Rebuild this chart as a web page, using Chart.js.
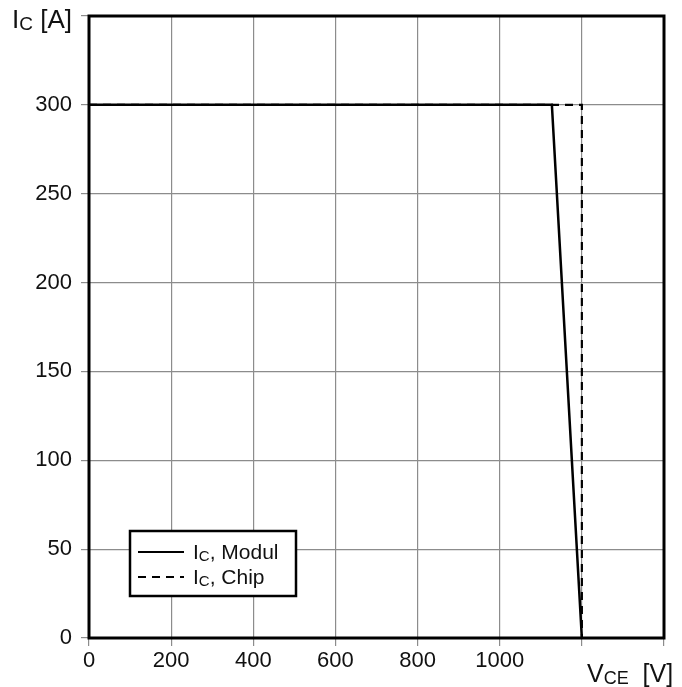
<!DOCTYPE html>
<html>
<head>
<meta charset="utf-8">
<script src="https://cdn.jsdelivr.net/npm/chart.js@4.4.1/dist/chart.umd.min.js"></script>
<style>
  html, body { margin: 0; padding: 0; background: #fff; }
  #wrap { width: 682px; height: 687px; position: relative; }
</style>
</head>
<body>
<div id="wrap"><canvas id="c" width="682" height="687"></canvas></div>
<script>
// Data
const xTicks = [0, 200, 400, 600, 800, 1000, 1200, 1400];
const yTicks = [0, 50, 100, 150, 200, 250, 300, 350];
const vceModul = [0, 1127, 1200];
const icModul = [300, 300, 0];
const vceChip = [0, 1200, 1200];
const icChip = [300, 300, 0];
const seriesLabels = ['Modul', 'Chip'];

const FONT = '"Liberation Sans", Arial, sans-serif';

function toPts(xs, ys) { return xs.map((x, i) => ({ x: x, y: ys[i] })); }

function drawSubText(ctx, x, y, parts, size) {
  let cx = x;
  parts.forEach(p => {
    const s = p.sub ? Math.round(size * 0.72) : size;
    ctx.font = s + 'px ' + FONT;
    ctx.fillText(p.t, cx, y + (p.sub ? size * 0.08 : 0));
    cx += ctx.measureText(p.t).width;
  });
}

const framePlugin = {
  id: 'frame',
  afterDatasetsDraw(chart) {
    const { ctx, chartArea: a } = chart;
    ctx.save();
    ctx.strokeStyle = '#000';
    ctx.lineWidth = 3;
    ctx.strokeRect(a.left, a.top, a.right - a.left, a.bottom - a.top);

    // axis titles
    ctx.fillStyle = '#111';
    ctx.textBaseline = 'alphabetic';
    ctx.textAlign = 'left';
    drawSubText(ctx, 12, 28, [{ t: 'I' }, { t: 'C', sub: true }, { t: ' [A]' }], 26);
    drawSubText(ctx, 587, 682, [{ t: 'V' }, { t: 'CE', sub: true }, { t: '  [V]' }], 25);

    // legend
    const lx = 130, ly = 531, lw = 166, lh = 65;
    ctx.fillStyle = '#fff';
    ctx.fillRect(lx, ly, lw, lh);
    ctx.lineWidth = 2.5;
    ctx.strokeStyle = '#000';
    ctx.strokeRect(lx, ly, lw, lh);
    chart.data.datasets.forEach((ds, i) => {
      const yy = 552 + i * 25;
      ctx.beginPath();
      ctx.lineWidth = 1.8;
      ctx.setLineDash(ds.borderDash || []);
      ctx.moveTo(138, yy);
      ctx.lineTo(184, yy);
      ctx.stroke();
      ctx.setLineDash([]);
      ctx.fillStyle = '#111';
      drawSubText(ctx, 193, yy + 7, [{ t: 'I' }, { t: 'C', sub: true }, { t: ', ' + ds.label }], 21);
    });
    ctx.restore();
  }
};

new Chart(document.getElementById('c'), {
  type: 'scatter',
  data: {
    datasets: [
      {
        label: seriesLabels[0],
        data: toPts(vceModul, icModul),
        showLine: true,
        borderColor: '#000',
        borderWidth: 2.5,
        pointRadius: 0,
        tension: 0
      },
      {
        label: seriesLabels[1],
        data: toPts(vceChip, icChip),
        showLine: true,
        borderColor: '#000',
        borderWidth: 2.2,
        borderDash: [8, 6],
        pointRadius: 0,
        tension: 0
      }
    ]
  },
  options: {
    responsive: false,
    animation: false,
    layout: { padding: { top: 16, right: 18, left: 0, bottom: 0 } },
    plugins: { legend: { display: false }, tooltip: { enabled: false } },
    scales: {
      x: {
        type: 'linear',
        min: 0, max: 1400,
        afterBuildTicks(s) { s.ticks = xTicks.map(v => ({ value: v })); },
        afterFit(s) { s.height = 49; s.paddingLeft = 0; s.paddingRight = 0; },
        grid: { color: '#8c8c8c', lineWidth: 1.2, tickLength: 8, drawTicks: true },
        border: { display: false },
        ticks: {
          color: '#111',
          font: { family: FONT, size: 22 },
          padding: 2,
          maxRotation: 0,
          autoSkip: false,
          callback: v => (v <= 1000 ? String(v) : '')
        }
      },
      y: {
        type: 'linear',
        min: 0, max: 350,
        afterBuildTicks(s) { s.ticks = yTicks.map(v => ({ value: v })); },
        afterFit(s) { s.width = 89; s.paddingTop = 0; s.paddingBottom = 0; },
        grid: { color: '#8c8c8c', lineWidth: 1.2, tickLength: 8, drawTicks: true },
        border: { display: false },
        ticks: {
          color: '#111',
          font: { family: FONT, size: 22 },
          padding: 9,
          autoSkip: false,
          callback: v => (v <= 300 ? String(v) : '')
        }
      }
    }
  },
  plugins: [framePlugin]
});
</script>
</body>
</html>
